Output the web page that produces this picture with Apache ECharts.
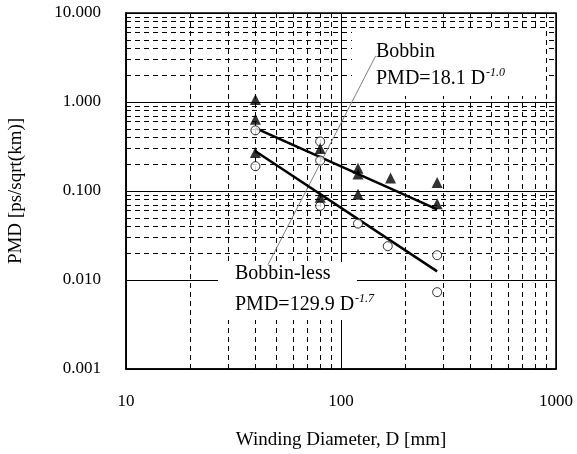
<!DOCTYPE html>
<html><head><meta charset="utf-8">
<script src="https://cdn.jsdelivr.net/npm/echarts@6/dist/echarts.min.js"></script>
<style>html,body{margin:0;padding:0;background:#fff}#c{width:577px;height:454px}</style>
</head><body><div id="c"></div>
<script>
// Data
var triangleD   = [40, 40, 40, 80, 80, 120, 120, 120, 170, 280, 280];
var trianglePMD = [1.07, 0.64, 0.27, 0.30, 0.085, 0.18, 0.155, 0.092, 0.14, 0.125, 0.072];
var circleD     = [40, 40, 80, 80, 80, 120, 165, 280, 280];
var circlePMD   = [0.48, 0.19, 0.36, 0.22, 0.068, 0.043, 0.024, 0.019, 0.0073];
var bobbinFitD   = [40, 280];
var bobbinFitPMD = [0.51, 0.062];
var lessFitD     = [40, 280];
var lessFitPMD   = [0.28, 0.0125];
var leaderD   = [45.7, 145];
var leaderPMD = [0.0148, 3.3];
var xTicks = [10, 100, 1000];
var yTicks = [0.001, 0.01, 0.1, 1, 10];
var xMinor = [20,30,40,50,60,70,80,90,200,300,400,500,600,700,800,900];
var yMinor = [];
[0.001,0.01,0.1,1].forEach(function(d){for(var k=2;k<=9;k++){yMinor.push(+(d*k).toPrecision(3));}});

function pairs(a,b){return a.map(function(v,i){return [v,b[i]];});}
var FONT = 'Liberation Serif';
var chart = echarts.init(document.getElementById('c'));
var minorLines = xMinor.map(function(v){return {xAxis:v};}).concat(yMinor.map(function(v){return {yAxis:v};}));
var supRich = {
  a:{fontFamily:FONT,fontSize:20,fill:'#000',lineHeight:22,verticalAlign:'bottom'},
  s:{fontFamily:FONT,fontSize:12,fontStyle:'italic',fill:'#000',lineHeight:22,verticalAlign:'top',padding:[0,0,0,1]}
};
chart.setOption({
  animation:false,
  backgroundColor:'#fff',
  grid:{left:126,right:21,top:13,bottom:85,show:true,borderColor:'#000',borderWidth:1.5,backgroundColor:'transparent',z:30,
    containLabel:false,outerBoundsMode:'none'},
  xAxis:{type:'log',logBase:10,min:10,max:1000,
    name:'Winding Diameter, D [mm]',nameLocation:'middle',nameGap:62,
    nameTextStyle:{fontFamily:FONT,fontSize:19,color:'#000'},
    axisLine:{lineStyle:{color:'#000',width:1.5}},
    axisTick:{show:false},
    axisLabel:{fontFamily:FONT,fontSize:17,color:'#000',margin:24,formatter:function(v){return String(Math.round(v));}},
    splitLine:{show:true,lineStyle:{color:'#000',width:1}}
  },
  yAxis:{type:'log',logBase:10,min:0.001,max:10,
    name:'PMD [ps/sqrt(km)]',nameLocation:'middle',nameGap:100,
    nameTextStyle:{fontFamily:FONT,fontSize:19,color:'#000'},
    axisLine:{lineStyle:{color:'#000',width:1.5}},
    axisTick:{show:false},
    axisLabel:{fontFamily:FONT,fontSize:17,color:'#000',margin:25,formatter:function(v){return v.toFixed(3);}},
    splitLine:{show:true,lineStyle:{color:'#000',width:1}}
  },
  graphic:[
    {type:'rect',z:10,shape:{x:352,y:29,width:194,height:67},style:{fill:'#fff'}},
    {type:'rect',z:10,shape:{x:218,y:262,width:139,height:58},style:{fill:'#fff'}},
    {type:'rect',z:10,shape:{x:357,y:284,width:43,height:36},style:{fill:'#fff'}},
    {type:'text',z:25,left:376,top:42,style:{text:'Bobbin',font:'20px "Liberation Serif"',fill:'#000'}},
    {type:'text',z:25,left:376,top:67,style:{text:'{a|PMD=18.1 D}{s|-1.0}',rich:supRich}},
    {type:'text',z:25,left:235,top:264,style:{text:'Bobbin-less',font:'20px "Liberation Serif"',fill:'#000'}},
    {type:'text',z:25,left:235,top:293,style:{text:'{a|PMD=129.9 D}{s|-1.7}',rich:supRich}}
  ],
  series:[
    {type:'line',z:1,data:[],silent:true,
      markLine:{z:1,silent:true,symbol:'none',label:{show:false},animation:false,
        lineStyle:{color:'#000',type:[5,4],width:1},data:minorLines}},
    {type:'line',z:15,data:pairs(leaderD,leaderPMD),symbol:'none',lineStyle:{color:'#808080',width:1}},
    {type:'line',z:20,data:pairs(bobbinFitD,bobbinFitPMD),symbol:'none',lineStyle:{color:'#000',width:2.5}},
    {type:'line',z:20,data:pairs(lessFitD,lessFitPMD),symbol:'none',lineStyle:{color:'#000',width:2.5}},
    {type:'scatter',z:21,data:pairs(circleD,circlePMD),symbol:'circle',symbolSize:9,itemStyle:{color:'#fff',borderColor:'#000',borderWidth:1}},
    {type:'scatter',z:22,data:pairs(triangleD,trianglePMD),symbol:'triangle',symbolSize:11,itemStyle:{color:'#000'}}
  ]
});
</script></body></html>
